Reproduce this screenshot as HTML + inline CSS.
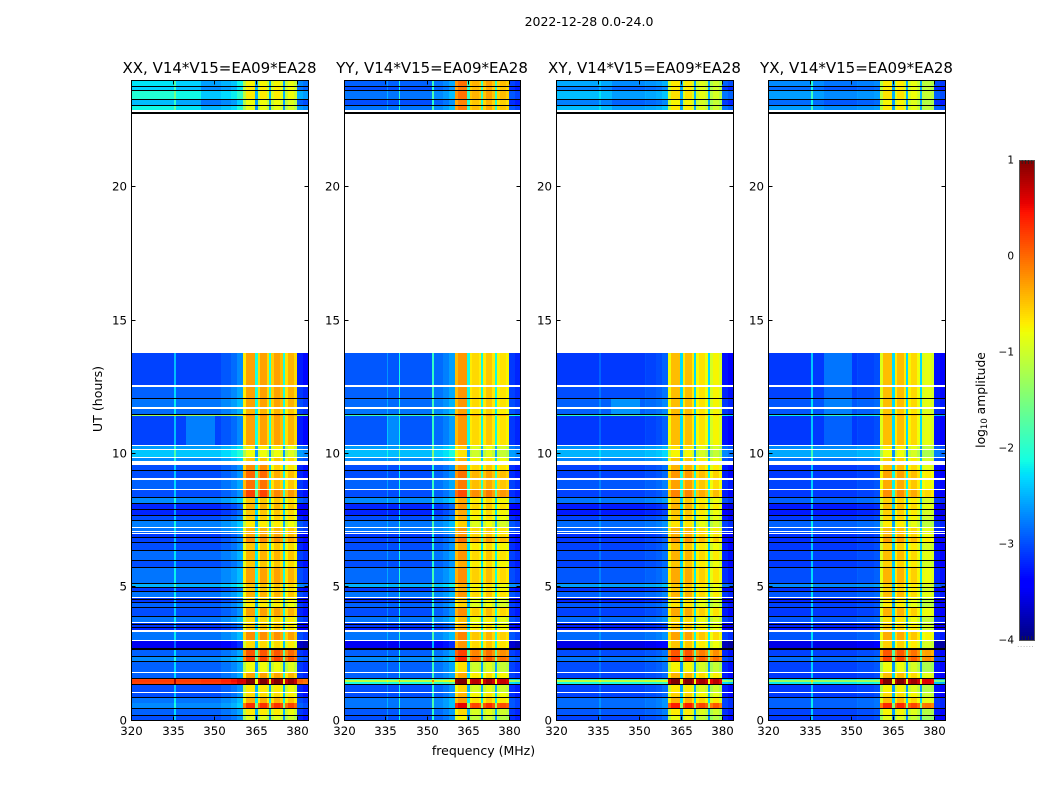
<!DOCTYPE html>
<html>
<head>
<meta charset="utf-8">
<title>Dynamic spectra</title>
<style>
html,body{margin:0;padding:0;background:#fff;width:1050px;height:800px;overflow:hidden}
svg{display:block}
text{font-family:"DejaVu Sans","Liberation Sans",sans-serif;fill:#000}
</style>
</head>
<body>
<svg id="chart" xmlns="http://www.w3.org/2000/svg" width="1050" height="800" viewBox="0 0 1050 800">
<rect x="0" y="0" width="1050" height="800" fill="#fff"/>
<text x="589" y="26" text-anchor="middle" font-size="12.5">2022-12-28 0.0-24.0</text>
<text transform="translate(102,399) rotate(-90)" text-anchor="middle" font-size="12.6">UT (hours)</text>
<text x="483.5" y="755" text-anchor="middle" font-size="12.5">frequency (MHz)</text>
<text transform="translate(985,400) rotate(-90)" text-anchor="middle" font-size="12.3">log<tspan font-size="8.5" dy="2">10</tspan><tspan dy="-2"> amplitude</tspan></text>
<g id="panels"></g>
<g id="colorbar"></g>
</svg>
<script>
// Axis tick values
const freqTicks = [320, 335, 350, 365, 380];
const hourTicks = [0, 5, 10, 15, 20];
const colorTicks = [1, 0, -1, -2, -3, -4];
const panelTitles = ["XX, V14*V15=EA09*EA28", "YY, V14*V15=EA09*EA28", "XY, V14*V15=EA09*EA28", "YX, V14*V15=EA09*EA28"];

// Frequency channel edges in MHz
const freqEdges = [320,325,330,335.7,336.1,339.8,340.2,345.3,350.3,352.1,352.5,356.1,358.3,360.4,361.5,364.8,365.7,366.6,369.1,369.8,370.5,371.6,373.8,374.9,375.6,376.7,378.8,379.9,382.1,383.9];

// Upper edge (hours UT) of each time row
const rowTops = [
.15,.19,.41,.45,.64,.82,.86,1.01,1.05,1.31,
1.35,1.42,1.50,1.54,1.57,1.76,1.80,2.17,2.21,2.36,2.40,2.62,
2.70,2.96,3.00,3.30,3.37,3.45,3.49,3.56,3.60,3.64,
3.67,3.86,3.90,4.20,4.24,4.39,4.42,4.50,4.54,4.57,
4.61,4.80,4.84,4.95,4.99,5.10,5.14,5.70,5.74,5.96,
6.00,6.34,6.37,6.64,6.67,6.82,6.86,6.97,7.01,7.05,
7.09,7.20,7.24,7.46,7.50,7.65,7.69,7.87,7.91,8.10,
8.14,8.32,8.36,8.62,8.66,9.00,9.07,9.34,9.37,9.56,
9.71,9.82,9.86,10.12,10.16,10.27,10.31,11.40,11.44,11.47,
11.66,11.74,12.04,12.07,12.49,12.56,13.76,22.72,22.80,22.87,
23.02,23.06,23.25,23.28,23.58,23.62,23.73,23.77,24];

// d = data, k = flagged (black), w = no data (white)
const rowKinds = [
"d","k","d","k","d","d","k","d","w","d",
"k","d","d","d","k","d","w","d","k","d","k","d",
"k","d","w","d","w","d","k","d","k","d",
"w","d","k","d","k","d","k","d","k","d",
"w","d","k","d","k","d","k","d","k","d",
"k","d","k","d","k","d","k","d","w","d",
"w","d","w","d","k","d","k","d","k","d",
"k","d","k","d","w","d","w","d","k","d",
"w","d","w","d","w","d","w","d","d","k",
"d","w","d","k","d","w","d","w","k","w",
"d","k","d","k","d","k","d","k","d"];

// Background level (log10 amplitude) per data row, bottom to top
const bgXX = [
-2.9,-2.8,-2.6,-2.7,-2.9,-2.9,
.3,.35,.3,-2.8,-2.8,-2.6,-2.8,
-3.4,-2.7,-3.1,-3,-3,
-2.7,-2.9,-2.8,-3,-3,
-2.7,-3,-2.4,-2.7,-2.9,
-2.75,-2.9,-2.95,-3,-2.8,
-2.7,-2.65,-2.9,-3.1,-3.1,
-2.6,-2.9,-2.8,-2.9,-2.9,
-2.6,-2.3,-2.5,-2.95,-1.2,
-2.75,-2.7,-2.8,-2.95,
-2.3,-2.6,-2.2,-2.5,-2.4];
const bgYY = [
-2.9,-2.85,-2.7,-2.7,-2.9,-2.9,
-2,-1,-2,-2.8,-2.8,-2.6,-2.8,
-3.4,-2.7,-3.1,-3,-3,
-2.7,-2.9,-2.8,-3,-3,
-2.7,-3,-2.4,-2.75,-2.9,
-2.8,-2.9,-2.95,-3,-2.8,
-2.7,-2.7,-2.9,-3.1,-3.1,
-2.6,-2.9,-2.8,-2.9,-2.9,
-2.6,-2.35,-2.5,-2.85,-1.8,
-2.7,-2.75,-2.8,-2.85,
-2.7,-2.9,-2.7,-2.9,-2.8];
const bgXY = [
-2.95,-2.85,-2.75,-2.75,-2.95,-2.95,
-2,-1,-2,-2.95,-2.9,-2.7,-2.9,
-3.45,-2.75,-3.15,-3.1,-3.1,
-2.75,-2.95,-2.85,-3.1,-3.1,
-2.8,-3.05,-2.5,-2.85,-2.95,
-2.9,-2.95,-3,-3.05,-2.85,
-2.8,-2.75,-2.95,-3.15,-3.15,
-2.7,-2.95,-2.85,-2.95,-2.95,
-2.65,-2.4,-2.55,-3,-1.9,
-2.8,-2.8,-2.9,-3,
-2.5,-2.8,-2.5,-2.8,-2.6];
const bgYX = [
-3,-2.95,-2.8,-2.8,-3,-3,
-2.1,-1.2,-2.1,-3,-2.95,-2.75,-2.95,
-3.45,-2.85,-3.15,-3.1,-3.1,
-2.85,-3,-2.95,-3.1,-3.1,
-2.85,-3.05,-2.6,-2.9,-3,
-2.95,-3,-3.05,-3.05,-2.9,
-2.85,-2.8,-3,-3.15,-3.15,
-2.8,-3,-2.95,-3,-3,
-2.7,-2.45,-2.6,-3,-2.1,
-2.85,-2.85,-2.95,-3,
-2.6,-2.85,-2.6,-2.85,-2.7];

// RFI band level (log10 amplitude) per data row, bottom to top
const bandXX = [
-.9,-.7,.3,-.4,-.6,-.7,
1,1,1,-.3,-.8,.2,.1,
-.6,-.2,-.5,-.5,-.6,
-.6,-.3,-.7,-.6,-.6,
-.4,-.5,-.5,-.3,-.5,
-.4,-.5,-.2,-.3,-.4,
-.4,-.7,-.55,-.5,-.4,
-.5,0,-.25,-.2,-.4,
-.5,-.8,-.7,-.3,-.1,
-.4,-.3,-.3,-.3,
-.85,-.8,-.7,-.7,-.75];
const bandYY = [
-.85,-.7,.45,-.4,-.5,-.7,
1,1,1,-.45,-.75,.25,.1,
-.35,-.25,-.45,-.45,-.6,
-.55,-.3,-.65,-.6,-.6,
-.35,-.45,-.5,-.3,-.45,
-.35,-.45,-.15,-.3,-.4,
-.35,-.65,-.5,-.45,-.35,
-.45,.05,-.2,-.15,-.35,
-.5,-.75,-.65,-.35,0,
-.4,-.35,-.35,-.35,
-.2,-.25,-.15,-.2,-.15];
const bandXY = [
-.9,-.75,.35,-.45,-.6,-.75,
1,1,1,-.45,-.8,.2,.05,
-.55,-.35,-.55,-.55,-.65,
-.65,-.4,-.7,-.65,-.65,
-.45,-.55,-.55,-.4,-.55,
-.45,-.55,-.3,-.4,-.45,
-.45,-.7,-.6,-.55,-.45,
-.55,-.2,-.35,-.3,-.45,
-.55,-.8,-.7,-.5,-.3,
-.5,-.5,-.5,-.5,
-.75,-.8,-.7,-.75,-.75];
const bandYX = [
-.95,-.8,.3,-.5,-.65,-.8,
.95,.95,.95,-.5,-.85,.15,.05,
-.6,-.4,-.6,-.6,-.7,
-.7,-.45,-.75,-.7,-.7,
-.5,-.6,-.6,-.45,-.6,
-.5,-.6,-.35,-.45,-.5,
-.5,-.75,-.65,-.6,-.5,
-.6,-.25,-.4,-.35,-.5,
-.6,-.85,-.75,-.5,-.35,
-.55,-.5,-.5,-.5,
-.75,-.8,-.7,-.75,-.75];

// Per-channel offset from the row level
const spectrumXX = [-.1,-.1,-.1,.5,-.1,-.1,-.1,-.1,-.1,-.1,0,.1,.25,
-.4,0,-1.8,-.3,0,-.3,-1.8,-.25,0,-.15,-1.8,-.35,-.1,-.3,-.3,-.4];
const spectrumYY = [-.1,-.1,-.1,.2,-.1,.7,-.1,-.1,-.1,.9,0,.1,.25,
-.1,.1,-1.8,-.35,-.25,-.35,-1.8,-.35,-.15,-.35,-1.8,-.4,-.3,-.4,-.25,-.35];
const spectrumXY = [-.1,-.1,-.1,.1,-.1,-.1,-.1,-.1,-.1,0,-.05,0,.1,
-.3,.05,-1.8,-.2,.05,-.2,-1.8,-.3,-.15,-.3,-1.8,-.45,-.25,-.45,-.3,-.4];
const spectrumYX = [-.1,-.1,-.1,.6,-.1,-.1,-.1,-.1,-.1,0,-.05,-.05,0,
-.4,.05,-1.8,-.2,.05,-.2,-1.8,-.25,-.1,-.3,-1.8,-.4,-.35,-.45,-.3,-.4];

// Local features: panel, hour from, hour to, MHz from, MHz to, added level
const featPanel = [0,0,0,0,0,1,2,3,3,2,3,0,0];
const featH0 = [22.7,22.7,22.7,10.3,1.3,10.3,11.4,10.3,12.5,22.7,22.7,8.3,8.3];
const featH1 = [24,24,24,11.4,1.6,11.4,12.1,13.8,13.8,24,24,9.5,9.5];
const featF0 = [320,335.5,345,340,345,333,340,342,342,320,320,360.4,370];
const featF1 = [335.5,345,358,348,360.4,338,350,351,351,340,340,370,380];
const featDelta = [.25,.15,-.1,.3,.05,.25,.25,.2,.1,.15,.1,.2,-.15];

const panelBg = [bgXX, bgYY, bgXY, bgYX];
const panelBand = [bandXX, bandYY, bandXY, bandYX];
const panelSpectrum = [spectrumXX, spectrumYY, spectrumXY, spectrumYX];
const bandLow = 360.4, bandHigh = 379.9;

const NS = "http://www.w3.org/2000/svg";
const panelLeft = [131, 344, 556, 768];
const panelWidths = [177, 176, 177, 177];
const plotBottom = 720, plotTop = 80;
const hourMax = 24, freqMin = 320, freqMax = 383.9;

function xScale(left, width, f) { return left + (f - freqMin) / (freqMax - freqMin) * width; }
function yScale(h) { return plotBottom - h / hourMax * (plotBottom - plotTop); }
function cbY(v) { return 640 - (v + 4) * 96; }

function lerp(pts, t) {
  for (let i = 1; i < pts.length; i++) {
    if (t <= pts[i][0]) {
      const a = pts[i - 1], b = pts[i];
      return a[1] + (b[1] - a[1]) * (t - a[0]) / (b[0] - a[0]);
    }
  }
  return pts[pts.length - 1][1];
}
const jetR = [[0,0],[.35,0],[.66,1],[.89,1],[1,.5]];
const jetG = [[0,0],[.125,0],[.375,1],[.64,1],[.91,0],[1,0]];
const jetB = [[0,.5],[.11,1],[.34,1],[.65,0],[1,0]];
function colorOf(v) {
  const t = Math.max(0, Math.min(1, (v + 4) / 5));
  const c = [jetR, jetG, jetB].map(p => Math.round(255 * lerp(p, t)));
  return "rgb(" + c.join(",") + ")";
}
function mk(tag, attrs, parent) {
  const e = document.createElementNS(NS, tag);
  for (const k in attrs) e.setAttribute(k, attrs[k]);
  parent.appendChild(e);
  return e;
}

const panelsG = document.getElementById("panels");
panelTitles.forEach((title, p) => {
  const left = panelLeft[p], panelWidth = panelWidths[p];
  const g = mk("g", {}, panelsG);
  
  
  const bgs = panelBg[p], bands = panelBand[p], spec = panelSpectrum[p];
  let dataIdx = 0, prev = 0;
  const xL = xScale(left, panelWidth, freqMin), xR = xScale(left, panelWidth, freqMax);
  rowTops.forEach((top, r) => {
    const kind = rowKinds[r];
    const y0 = Math.round(yScale(top)), y1 = Math.round(yScale(prev));
    const hc = (top + prev) / 2;
    if (kind !== "d") {
      const flag = mk("rect", {x: xL, y: y0, width: xR - xL, height: y1 - y0, fill: kind === "k" ? "#000" : "#fff", "shape-rendering": "crispEdges"}, g);
      
      
    } else {
      for (let c = 0; c < freqEdges.length - 1; c++) {
        const f0 = freqEdges[c], f1 = freqEdges[c + 1], fc = (f0 + f1) / 2;
        const inBand = fc > bandLow && fc < bandHigh;
        let v = (inBand ? bands[dataIdx] : bgs[dataIdx]) + spec[c];
        featDelta.forEach((d, i) => {
          if (featPanel[i] === p && hc >= featH0[i] && hc <= featH1[i] && fc >= featF0[i] && fc <= featF1[i]) v += d;
        });
        const cx0 = Math.round(xScale(left, panelWidth, f0)), cx1 = Math.round(xScale(left, panelWidth, f1));
        const cell = mk("rect", {x: cx0, y: y0, width: Math.max(1, cx1 - cx0), height: y1 - y0, fill: colorOf(v), "shape-rendering": "crispEdges"}, g);
        
        
      }
      dataIdx++;
    }
    prev = top;
  });

  const frame = mk("rect", {x: left + .5, y: plotTop + .5, width: panelWidth, height: plotBottom - plotTop, fill: "none", stroke: "#000", "stroke-width": 1}, g);
  
  

  const t = mk("text", {x: left + panelWidth / 2, y: 73, "text-anchor": "middle", "font-size": 15}, g);
  t.textContent = title;
  
  

  freqTicks.forEach(f => {
    const x = Math.round(xScale(left, panelWidth, f)) + .5;
    const a = mk("line", {x1: x, x2: x, y1: plotBottom + .5, y2: plotBottom - 3.5, stroke: "#000"}, g);
    
    
    const b = mk("line", {x1: x, x2: x, y1: plotTop + .5, y2: plotTop + 4.5, stroke: "#000"}, g);
    
    
    const l = mk("text", {x: x, y: 735, "text-anchor": "middle", "font-size": 11.8}, g);
    l.textContent = f;
    
    
  });
  hourTicks.forEach(h => {
    const y = Math.floor(yScale(h)) + .5;
    const a = mk("line", {x1: left + .5, x2: left + 4.5, y1: y, y2: y, stroke: "#000"}, g);
    
    
    const b = mk("line", {x1: left + panelWidth + .5, x2: left + panelWidth - 3.5, y1: y, y2: y, stroke: "#000"}, g);
    
    
    const l = mk("text", {x: left - 4, y: y + 4, "text-anchor": "end", "font-size": 11.8}, g);
    l.textContent = h;
    
    
  });
});

// Colorbar
const cb = document.getElementById("colorbar");
const cbX = 1019, cbW = 16;
for (let y = 160; y < 640; y += 2) {
  const s = mk("rect", {x: cbX, y: y, width: cbW, height: 2, fill: colorOf(-4 + (640 - y - 1) / 96), "shape-rendering": "crispEdges"}, cb);
  
  
}
const cbFrame = mk("rect", {x: cbX + .5, y: 160.5, width: cbW - 1, height: 480, fill: "none", stroke: "#555", "stroke-width": 1}, cb);


for (let i = 1; i <= 4; i++) {
  const x = cbX + i * cbW / 5;
  const mt = mk("line", {x1: x, x2: x, y1: 160, y2: 164, stroke: "#222", "stroke-width": .8}, cb);
  
  
  const mb = mk("line", {x1: x, x2: x, y1: 636, y2: 640, stroke: "#222", "stroke-width": .8}, cb);
  
  
}
colorTicks.forEach(v => {
  const l = mk("text", {x: 1014, y: cbY(v) + 3.5, "text-anchor": "end", "font-size": 10.5}, cb);
  l.textContent = String(v).replace("-", "\u2212");
  
  
});
const cbDots = mk("text", {x: 1026, y: 647, "text-anchor": "middle", "font-size": 6, "letter-spacing": "1"}, cb);
cbDots.textContent = "......";
cbDots.style.fill = "#777";


</script>
</body>
</html>
